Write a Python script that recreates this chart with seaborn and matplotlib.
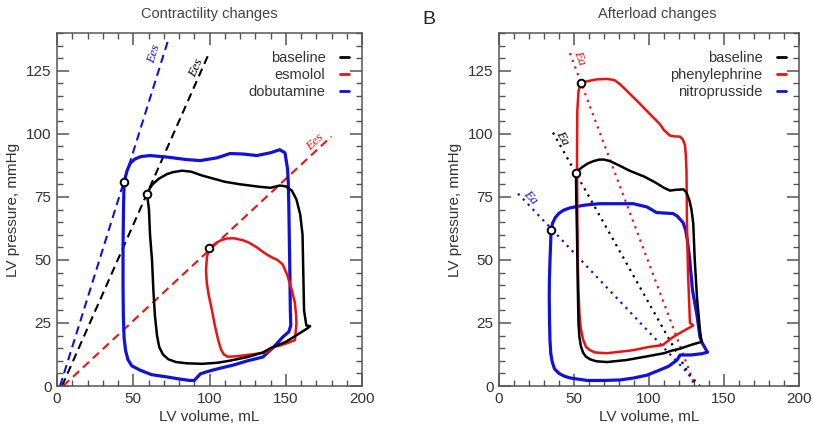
import matplotlib
matplotlib.use("Agg")
import matplotlib.pyplot as plt
from matplotlib.ticker import MultipleLocator
from matplotlib.lines import Line2D
import seaborn as sns
import pandas as pd

# ---------------- Panel A: contractility changes ----------------
a_base_vol = [59, 60.3, 61, 62.3, 63.2, 64.2, 65.6, 67, 69.5, 73, 78, 85, 95, 105, 113, 125, 135, 140, 150,
              158, 164, 166, 163.5, 162, 161.5, 161, 159.5, 157, 154, 150, 146, 140, 133, 120, 110, 95, 88,
              82, 76, 72, 67, 63, 61, 59]
a_base_pres = [76.3, 70, 60, 50, 38, 28, 20, 15.5, 12.5, 10.6, 9.5, 9, 8.8, 9.2, 10, 11.5, 13.3, 15, 17.5,
               20.5, 22.8, 23.7, 24, 30, 45, 60, 68, 74, 77.5, 79.2, 79.5, 78.6, 79, 80, 81, 83.5, 85,
               85.4, 84.8, 84, 82.3, 80.2, 78.5, 76.3]

a_esm_vol = [99.7, 98.3, 97.7, 98.2, 99.5, 101.6, 103.5, 105.6, 107.5, 109.5, 112, 118, 124.6, 131, 137.7,
             141.7, 147, 151, 156, 157, 156.8, 156, 154, 151, 148, 144.5, 141.6, 138, 135, 131, 126,
             122, 116, 111.5, 107.5, 104.5, 102, 99.7]
a_esm_pres = [54.6, 51, 46, 41, 36, 30, 24, 18.5, 14.5, 12.5, 11.6, 11.8, 12.3, 12.8, 13.4, 15.4, 16.2,
              17, 18.2, 24.7, 28, 33, 38, 44, 48.2, 50, 50.8, 52, 53.2, 55, 56.8, 57.8, 58.6, 58.5, 57.8,
              56.8, 55.6, 54.6]

a_dob_vol = [44, 43.6, 43.3, 43.3, 43.5, 44, 45, 46.5, 49, 54.4, 62, 72, 80, 87, 90, 92, 94, 98, 102, 110,
             115.6, 125, 135, 142, 148, 152, 153.3, 153, 152.7, 152.3, 152, 151.7, 151.2, 149.5, 146,
             140, 131, 122, 113.5, 105, 94, 85, 72, 61, 55, 51, 48, 46, 44]
a_dob_pres = [81, 70, 55, 40, 28, 19, 14, 10.5, 8, 6.3, 4.5, 3.6, 2.8, 2.2, 2.2, 3.5, 4.8, 5.6, 6.3, 7.5,
              8.3, 10, 11.5, 15.4, 19.4, 21.5, 24, 30, 45, 60, 72, 80, 86, 92.5, 93.7, 92.5, 91.4, 92,
              92.2, 90.5, 89.4, 89.8, 90.8, 91.4, 91, 90, 88.3, 85.5, 81]

a_esp_vol = [59, 99.7, 44]
a_esp_pres = [76.3, 54.6, 81]

# Ees lines (end points: volume, pressure)
a_ees_vol = [[3.3, 99.7], [4, 180], [2, 72.8]]
a_ees_pres = [[0, 132], [0, 99], [0, 137]]

a_labels = ["baseline", "esmolol", "dobutamine"]

# ---------------- Panel B: afterload changes ----------------
b_base_vol = [51.3, 51.5, 52, 52.5, 53, 53.6, 54.5, 56, 58, 61, 65, 72, 85, 100, 110, 115, 120.7, 128, 135,
              134, 132, 130.5, 129.5, 128.3, 127, 125, 123, 118, 114, 110, 104, 97, 87, 80, 74, 70, 67,
              63, 59, 55.5, 53, 51.3]
b_base_pres = [84.6, 75, 60, 40, 25, 19.5, 16, 13.3, 11.6, 10.5, 9.8, 9.5, 10.3, 11.9, 13, 14, 14.8, 16.3,
               17.5, 22, 35, 50, 64.5, 70, 73.5, 76.7, 78, 77.8, 77.5, 78.6, 80.8, 83, 85.4, 87.5, 89.2,
               89.8, 89.8, 89.2, 88.2, 86.8, 85.6, 84.6]

b_phe_vol = [54.7, 53, 52.2, 52, 52.2, 52.5, 53, 53.6, 54.5, 56, 58, 60.7, 64, 72, 89.5, 100, 109, 116, 125,
             129.5, 127.3, 126, 125.3, 125, 124.5, 124, 122.5, 120.7, 117, 114, 110, 107, 98.7, 93, 87,
             81, 77, 72, 65, 60, 57, 54.7]
b_phe_pres = [120.3, 117, 109, 90, 70, 50, 38, 29, 23, 18.5, 15.5, 14.2, 13.3, 13, 14.2, 15.5, 16.2, 19.4,
              22.5, 24, 25, 45, 64.5, 85, 92, 95.5, 97.8, 98.9, 99, 99.3, 101.5, 104, 109, 112.5, 116,
              119.5, 121.3, 121.8, 121.6, 121, 120.6, 120.3]

b_nit_vol = [34.7, 34.5, 34, 33.6, 33.5, 33.7, 34, 34.5, 35.5, 37, 40, 43.5, 47.3, 58.7, 70, 80.7, 90, 98.7,
             107, 113, 118.7, 120.7, 128, 135, 139, 135.5, 134, 132, 129, 127, 125.5, 124.5, 122.7, 119,
             116, 110, 105, 98.7, 89.5, 78, 67, 58, 52, 47, 43, 40, 37.5, 35.7, 34.7]
b_nit_pres = [62, 57.8, 50, 42, 35, 25, 18, 13, 9.5, 6.8, 5, 3.9, 3.2, 2.2, 2.2, 2.4, 3.2, 4.3, 6.3, 7.8,
              10.3, 12.3, 12.3, 12.8, 13.4, 17, 19.4, 28, 38, 51, 58, 61.7, 64.8, 67.3, 68.4, 68.6, 68.8,
              71, 72.3, 72.3, 72.3, 71.8, 71.2, 70.6, 69.7, 68.5, 66.8, 64.5, 62]

b_esp_vol = [51.3, 54.7, 34.7]
b_esp_pres = [84.6, 120.3, 62]

# Ea lines (end points: volume, pressure)
b_ea_vol = [[36, 131], [47.3, 130.7], [12.7, 134]]
b_ea_pres = [[100.5, 0], [132, 0], [76.3, 0]]

b_labels = ["baseline", "phenylephrine", "nitroprusside"]

# ---------------- styling ----------------
colors = ["#000000", "#ee1111", "#1111dd"]
widths = [1.8, 1.8, 2.3]

sns.set_style("ticks")
plt.rcParams['font.family'] = ['Liberation Sans', 'DejaVu Sans']

fig = plt.figure(figsize=(8.13, 4.26), dpi=100)
axA = fig.add_axes([57 / 813, 40 / 426, 305 / 813, 353 / 426])
axB = fig.add_axes([499 / 813, 40 / 426, 300 / 813, 353 / 426])


def style(ax):
    ax.set_xlim(0, 200)
    ax.set_ylim(0, 140)
    ax.set_xticks([0, 50, 100, 150, 200])
    ax.set_yticks([0, 25, 50, 75, 100, 125])
    ax.xaxis.set_minor_locator(MultipleLocator(10))
    ax.yaxis.set_minor_locator(MultipleLocator(5))
    ax.tick_params(which='both', direction='in', top=True, right=True, color='#555555',
                   labelcolor='#333333', labelsize=11, pad=4)
    ax.tick_params(which='major', length=8.5, width=1.1)
    ax.tick_params(which='minor', length=4.5, width=1.0)
    for s in ax.spines.values():
        s.set_color('#555555')
        s.set_linewidth(1.1)
    ax.set_xlabel("LV volume, mL", fontsize=11, color='#333333', labelpad=3)
    ax.set_ylabel("LV pressure, mmHg", fontsize=11, color='#333333', labelpad=4)


def loops(ax, vols, press, labels, order):
    for i in order:
        df = pd.DataFrame({"vol": vols[i], "pres": press[i]})
        sns.lineplot(data=df, x="vol", y="pres", sort=False, estimator=None, color=colors[i],
                     lw=widths[i], ax=ax, zorder=3, solid_joinstyle='round', solid_capstyle='round')
    handles = [Line2D([], [], color=colors[i], lw=2) for i in range(3)]
    ax.legend(handles, labels, loc='upper right', bbox_to_anchor=(1.0, 0.985), frameon=False,
              markerfirst=False, handlelength=0.6, handletextpad=1.0, fontsize=10.5,
              labelspacing=0.2, labelcolor='#333333', borderaxespad=0.5)


# Panel A
for i in range(3):
    df = pd.DataFrame({"vol": a_ees_vol[i], "pres": a_ees_pres[i]})
    sns.lineplot(data=df, x="vol", y="pres", sort=False, estimator=None, color=colors[i],
                 lw=1.5, ls=(0, (4, 2.5)), ax=axA, zorder=2)
loops(axA, [a_base_vol, a_esm_vol, a_dob_vol], [a_base_pres, a_esm_pres, a_dob_pres], a_labels, [2, 1, 0])
sns.scatterplot(x=a_esp_vol, y=a_esp_pres, ax=axA, s=30, facecolor='white', edgecolor='black',
                linewidth=1.4, zorder=5, legend=False)
a_txt = [(91.1, 126.2, 66), (169, 96.5, 43), (63.6, 131.7, 72.7)]
for i, (x, y, r) in enumerate(a_txt):
    axA.text(x, y, "Ees", color=colors[i], rotation=r, rotation_mode='anchor', ha='center', va='center',
             fontsize=9.5, style='italic', family='Liberation Serif')
style(axA)
axA.set_title("Contractility changes", fontsize=10.5, color='#444444', pad=11)

# Panel B
for i in range(3):
    df = pd.DataFrame({"vol": b_ea_vol[i], "pres": b_ea_pres[i]})
    sns.lineplot(data=df, x="vol", y="pres", sort=False, estimator=None, color=colors[i],
                 lw=1.6, ls=(0, (1, 2.2)), ax=axB, zorder=2)
loops(axB, [b_base_vol, b_phe_vol, b_nit_vol], [b_base_pres, b_phe_pres, b_nit_pres], b_labels, [2, 1, 0])
sns.scatterplot(x=b_esp_vol, y=b_esp_pres, ax=axB, s=30, facecolor='white', edgecolor='black',
                linewidth=1.4, zorder=5, legend=False)
b_txt = [(42, 98.5, -60.7), (54, 130, -69.5), (20.7, 74.8, -46.7)]
for i, (x, y, r) in enumerate(b_txt):
    axB.text(x, y, "Ea", color=colors[i], rotation=r, rotation_mode='anchor', ha='center', va='center',
             fontsize=9.5, style='italic', family='Liberation Serif')
style(axB)
fig.text(657 / 813, 1 - 14 / 426, "Afterload changes", fontsize=10.5, color='#444444', ha='center', va='center')
fig.text(429 / 813, 1 - 19 / 426, "B", fontsize=14, color='#222222', ha='center', va='center')

fig.savefig("out.png", dpi=100)
